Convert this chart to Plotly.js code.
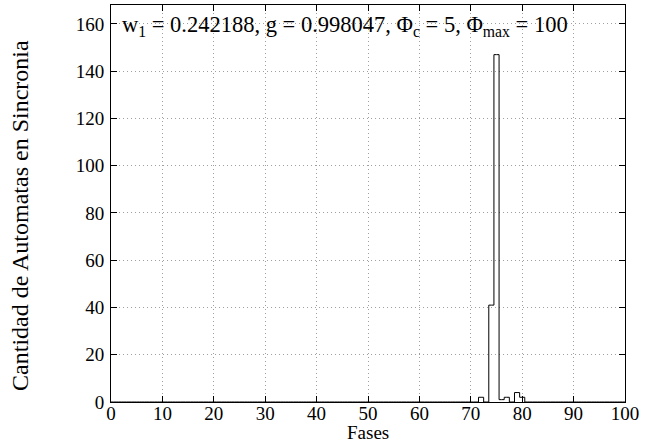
<!DOCTYPE html>
<html>
<head>
<meta charset="utf-8">
<script src="https://cdn.plot.ly/plotly-3.0.1.min.js"></script>
<style>html,body{margin:0;padding:0;background:#fff;}#chart{width:663px;height:444px;}</style>
</head>
<body>
<div id="chart"></div>
<script>
// Phase bins (Fases) and the number of automata in synchrony per bin
const fases = Array.from({length: 101}, (_, i) => i);
const nonZeroPhases = [72, 74, 75, 76, 77, 79, 80];
const nonZeroCounts = [2, 41, 147, 1, 2, 4, 2];
const xTicks = [0, 10, 20, 30, 40, 50, 60, 70, 80, 90, 100];
const yTicks = [0, 20, 40, 60, 80, 100, 120, 140, 160];
const plotLabel = 'w<sub>1</sub> = 0.242188, g = 0.998047, Φ<sub>c</sub> = 5, Φ<sub>max</sub> = 100';
const xTitle = 'Fases';
const yTitle = 'Cantidad de Automatas en Sincronia';

const counts = fases.map(f => {
  const k = nonZeroPhases.indexOf(f);
  return k >= 0 ? nonZeroCounts[k] : 0;
});

const fam = '"Liberation Serif", "Times New Roman", serif';
const font = {family: fam, size: 19, color: '#000'};

const trace = {
  x: fases, y: counts, type: 'scatter', mode: 'lines',
  line: {shape: 'hvh', color: '#000', width: 1},
  hoverinfo: 'x+y'
};

const axisCommon = {
  showline: true, linecolor: '#000', linewidth: 1, mirror: 'allticks',
  ticks: 'inside', ticklen: 6, tickcolor: '#000', tickwidth: 1,
  showgrid: true, gridcolor: '#a0a0a0', griddash: '1px,3px', gridwidth: 1,
  zeroline: false, tickfont: font
};

const layout = {
  width: 663, height: 444,
  margin: {l: 111, r: 38, t: 5, b: 42},
  paper_bgcolor: '#fff', plot_bgcolor: '#fff',
  showlegend: false,
  font: font,
  xaxis: Object.assign({}, axisCommon, {
    range: [0, 100], tickvals: xTicks, ticktext: xTicks.map(String),
    ticklabelstandoff: -6
  }),
  yaxis: Object.assign({}, axisCommon, {
    range: [0, 168], tickvals: yTicks, ticktext: yTicks.map(String),
    ticklabelstandoff: 2
  }),
  annotations: [
    {
      text: plotLabel, xref: 'paper', yref: 'paper', x: 0.017, y: 0.947,
      xanchor: 'left', yanchor: 'middle', showarrow: false,
      font: {family: fam, size: 22.5, color: '#000'}
    },
    {
      text: xTitle, xref: 'paper', yref: 'paper', x: 0.5, y: -0.105,
      xanchor: 'center', yanchor: 'bottom', showarrow: false, borderpad: 0,
      font: {family: fam, size: 19, color: '#000'}
    },
    {
      text: yTitle, xref: 'paper', yref: 'paper', x: -0.176, y: 0.47,
      xanchor: 'center', yanchor: 'middle', showarrow: false, textangle: -90,
      font: {family: fam, size: 24, color: '#000'}
    }
  ]
};

Plotly.newPlot('chart', [trace], layout, {displayModeBar: false, staticPlot: true});
</script>
</body>
</html>
